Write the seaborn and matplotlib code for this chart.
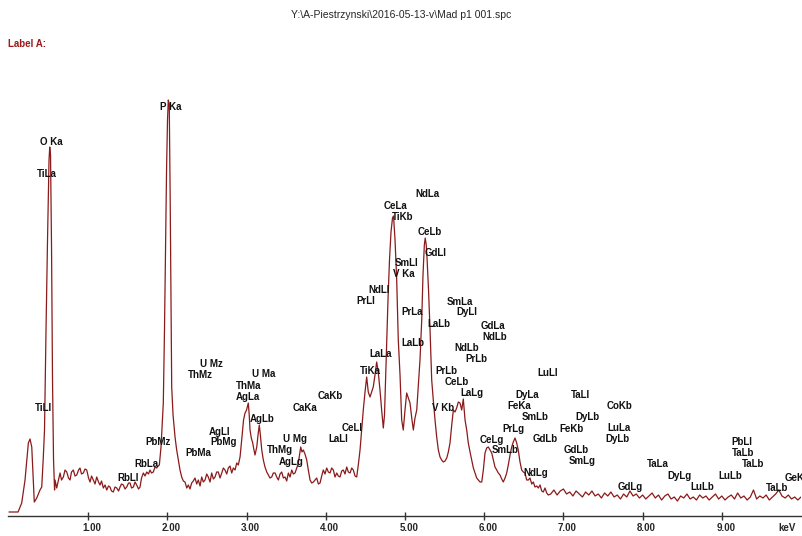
import numpy as np
import pandas as pd
import matplotlib
matplotlib.use("Agg")
import matplotlib.pyplot as plt
import matplotlib.transforms as mtransforms
import seaborn as sns

sns.set_style("white")
plt.rcParams['font.family'] = ['Liberation Sans', 'DejaVu Sans']

# spectrum: energy (keV) and intensity (arbitrary counts)
energy_kev = [
    0.000, 0.114, 0.160, 0.202, 0.244, 0.265, 0.287, 0.307, 0.319, 0.350, 0.391, 0.413, 0.433,
    0.448, 0.467, 0.486, 0.505, 0.514, 0.524, 0.537, 0.549, 0.562, 0.575, 0.581, 0.602,
    0.644, 0.663, 0.686, 0.707, 0.729, 0.751, 0.770, 0.789, 0.812, 0.833, 0.855, 0.878, 0.896,
    0.915, 0.938, 0.960, 0.981, 1.004, 1.023, 1.042, 1.064, 1.086, 1.107, 1.130, 1.149, 1.168,
    1.191, 1.212, 1.234, 1.256, 1.275, 1.294, 1.317, 1.338, 1.360, 1.383, 1.402, 1.420, 1.443,
    1.465, 1.486, 1.509, 1.528, 1.547, 1.570, 1.591, 1.612, 1.635, 1.654, 1.673, 1.696, 1.717,
    1.739, 1.761, 1.780, 1.799, 1.822, 1.843, 1.865, 1.881, 1.898, 1.919, 1.934, 1.948, 1.963,
    1.976, 1.989, 2.001, 2.011, 2.023, 2.035, 2.045, 2.054, 2.071, 2.096, 2.117, 2.138, 2.159,
    2.180, 2.201, 2.222, 2.244, 2.264, 2.285, 2.306, 2.327, 2.348, 2.370, 2.390, 2.412, 2.433,
    2.453, 2.475, 2.496, 2.516, 2.538, 2.559, 2.580, 2.601, 2.622, 2.643, 2.664, 2.686, 2.706,
    2.727, 2.749, 2.769, 2.790, 2.812, 2.832, 2.854, 2.875, 2.895, 2.917, 2.932, 2.946, 2.961,
    2.980, 2.999, 3.021, 3.033, 3.043, 3.059, 3.077, 3.093, 3.106, 3.128, 3.144, 3.160, 3.176,
    3.191, 3.211, 3.232, 3.254, 3.274, 3.295, 3.317, 3.337, 3.359, 3.380, 3.401, 3.422, 3.443,
    3.464, 3.485, 3.506, 3.527, 3.548, 3.570, 3.590, 3.611, 3.633, 3.653, 3.668, 3.683, 3.699,
    3.716, 3.737, 3.759, 3.779, 3.801, 3.822, 3.843, 3.864, 3.885, 3.906, 3.927, 3.948, 3.968,
    3.990, 4.011, 4.032, 4.053, 4.074, 4.095, 4.116, 4.138, 4.158, 4.179, 4.201, 4.221, 4.242,
    4.264, 4.284, 4.306, 4.327, 4.347, 4.369, 4.390, 4.410, 4.432, 4.453, 4.473, 4.495, 4.516,
    4.536, 4.558, 4.579, 4.599, 4.621, 4.642, 4.662, 4.684, 4.705, 4.726, 4.741, 4.754, 4.769,
    4.785, 4.804, 4.823, 4.842, 4.855, 4.874, 4.895, 4.915, 4.937, 4.958, 4.978, 5.000, 5.021,
    5.042, 5.063, 5.085, 5.105, 5.126, 5.148, 5.168, 5.189, 5.211, 5.227, 5.244, 5.255, 5.268,
    5.278, 5.297, 5.316, 5.337, 5.357, 5.379, 5.400, 5.421, 5.442, 5.463, 5.484, 5.505, 5.527,
    5.547, 5.568, 5.590, 5.610, 5.631, 5.652, 5.673, 5.694, 5.716, 5.736, 5.758, 5.779, 5.799,
    5.821, 5.842, 5.863, 5.884, 5.905, 5.926, 5.947, 5.969, 5.989, 6.010, 6.031, 6.052, 6.073,
    6.095, 6.115, 6.136, 6.158, 6.178, 6.199, 6.221, 6.241, 6.263, 6.284, 6.304, 6.326, 6.347,
    6.367, 6.389, 6.410, 6.430, 6.452, 6.473, 6.494, 6.515, 6.536, 6.557, 6.578, 6.600, 6.620,
    6.641, 6.663, 6.683, 6.705, 6.726, 6.746, 6.768, 6.789, 6.809,
    6.84, 6.88, 6.92, 6.96, 7.00, 7.04, 7.08, 7.12, 7.16, 7.20, 7.24, 7.28, 7.32, 7.36, 7.40,
    7.44, 7.48, 7.52, 7.56, 7.60, 7.64, 7.68, 7.72, 7.76, 7.80, 7.84, 7.88, 7.92, 7.96, 8.00,
    8.04, 8.08, 8.12, 8.16, 8.20, 8.24, 8.28, 8.32, 8.36, 8.40, 8.44, 8.48, 8.52, 8.56, 8.60,
    8.64, 8.68, 8.72, 8.76, 8.80, 8.84, 8.88, 8.92, 8.96, 9.00, 9.04, 9.08, 9.12, 9.16, 9.20,
    9.24, 9.28, 9.32, 9.36, 9.40, 9.44, 9.48, 9.52, 9.56, 9.60, 9.64, 9.68, 9.72, 9.76, 9.80,
    9.84, 9.88, 9.92, 9.96, 10.00,
]
counts = [
    4, 4, 13, 36, 73, 77, 69, 36, 14, 18, 26, 29, 59,
    86, 186, 276, 356, 369, 361, 266, 136, 56, 26, 36, 28,
    43, 36, 39, 46, 44, 38, 36, 44, 46, 40, 41, 46, 48,
    42, 43, 47, 46, 38, 34, 40, 36, 32, 39, 34, 31, 35,
    28, 31, 26, 30, 29, 25, 24, 29, 28, 25, 29, 32, 31,
    27, 29, 33, 33, 28, 29, 34, 31, 27, 29, 38, 43, 40,
    44, 42, 46, 43, 44, 49, 48, 50, 51, 69, 91, 113, 186,
    266, 346, 396, 416, 412, 316, 216, 129, 101, 79, 66, 56, 46,
    39, 35, 34, 28, 31, 27, 33, 35, 38, 32, 36, 30, 39,
    34, 36, 42, 39, 34, 43, 37, 39, 44, 44, 38, 43, 48,
    46, 42, 48, 50, 43, 48, 46, 53, 51, 59, 71, 83, 96,
    103, 106, 113, 101, 86, 78, 73, 66, 61, 69, 81, 91, 79,
    66, 56, 49, 44, 41, 38, 39, 43, 43, 39, 36, 42, 44,
    38, 39, 35, 43, 39, 46, 42, 43, 48, 53, 61, 69, 64,
    66, 62, 56, 46, 36, 33, 34, 36, 38, 32, 33, 40, 46,
    42, 48, 44, 43, 48, 46, 39, 43, 40, 39, 45, 46, 42,
    49, 44, 43, 48, 46, 40, 39, 51, 66, 86, 106, 124, 139,
    124, 119, 124, 129, 141, 154, 144, 126, 106, 88, 101, 136, 176,
    216, 256, 284, 298, 300, 276, 236, 176, 141, 96, 86, 106, 123,
    118, 113, 98, 86, 98, 106, 131, 156, 196, 241, 271, 278, 271,
    258, 226, 186, 136, 116, 96, 79, 66, 59, 56, 54, 55, 58,
    64, 73, 91, 106, 104, 108, 114, 113, 106, 117, 96, 86, 73,
    64, 56, 48, 43, 38, 36, 34, 34, 46, 63, 68, 69, 66,
    63, 56, 49, 46, 43, 41, 37, 34, 38, 43, 51, 61, 69,
    74, 78, 73, 66, 54, 46, 44, 43, 36, 36, 38, 32, 34,
    29, 30, 28, 31, 25, 24, 28, 23, 21,
    22, 26, 21, 25, 27, 22, 24, 20, 25, 22, 19, 24, 21, 25, 20,
    22, 18, 23, 20, 24, 19, 21, 17, 22, 19, 25, 20, 22, 18, 21,
    17, 20, 23, 18, 21, 16, 20, 22, 17, 19, 15, 20, 18, 22, 17,
    19, 16, 21, 18, 20, 16, 19, 22, 17, 20, 16, 19, 21, 17, 23,
    18, 20, 16, 19, 26, 17, 20, 18, 21, 16, 19, 22, 26, 20, 18,
    21, 17, 19, 16, 19,
]

# peak identification labels: name, energy (keV), height (counts)
peak_names = [
    "O Ka", "TiLa", "P Ka", "TiLl", "PbMz", "RbLa", "RbLl", "U Mz", "ThMz", "PbMa",
    "AgLl", "PbMg", "ThMa", "AgLa", "U Ma", "AgLb", "U Mg", "ThMg", "AgLg", "CaKa",
    "CaKb", "LaLl", "CeLl", "TiKa", "NdLa", "CeLa", "TiKb", "CeLb", "GdLl", "SmLl",
    "V Ka", "NdLl", "PrLl", "PrLa", "SmLa", "DyLl", "LaLb", "LaLb", "LaLa", "GdLa",
    "NdLb", "NdLb", "PrLb", "PrLb", "CeLb", "LaLg", "V Kb", "LuLl", "DyLa", "FeKa",
    "SmLb", "PrLg", "GdLb", "CeLg", "SmLb", "NdLg", "TaLl", "DyLb", "FeKb", "GdLb",
    "SmLg", "CoKb", "LuLa", "DyLb", "TaLa", "GdLg", "DyLg", "LuLb", "LuLb", "PbLl",
    "TaLb", "TaLb", "TaLb",
]
peak_kev = [
    0.539, 0.476, 2.045, 0.433, 1.885, 1.739, 1.506, 2.551, 2.412, 2.390,
    2.655, 2.715, 3.030, 3.021, 3.211, 3.191, 3.611, 3.422, 3.569, 3.737,
    4.053, 4.158, 4.335, 4.558, 5.278, 4.886, 4.971, 5.307, 5.391, 5.021,
    4.987, 4.676, 4.508, 5.085, 5.694, 5.787, 5.433, 5.097, 4.693, 6.115,
    6.136, 5.779, 5.896, 5.527, 5.653, 5.842, 5.484, 6.797, 6.540, 6.443,
    6.641, 6.367, 6.768, 6.095, 6.263, 6.654, 7.213, 7.302, 7.096, 7.159,
    7.235, 7.706, 7.702, 7.681, 8.191, 7.841, 8.472, 8.754, 9.112, 9.251,
    9.264, 9.398, 9.701,
]
peak_height = [
    374, 342, 409, 108, 74, 52, 38, 152, 141, 63,
    84, 74, 130, 119, 142, 97, 77, 66, 54, 108,
    120, 77, 88, 145, 322, 310, 299, 284, 263, 253,
    242, 226, 215, 204, 214, 204, 192, 173, 162, 190,
    179, 168, 157, 145, 134, 123, 108, 143, 121, 110,
    99, 87, 77, 76, 66, 43, 121, 99, 87, 66,
    55, 110, 88, 77, 52, 29, 40, 29, 40, 74,
    63, 52, 28,
]

tick_kev = [1, 2, 3, 4, 5, 6, 7, 8, 9]
tick_labels = ["1.00", "2.00", "3.00", "4.00", "5.00", "6.00", "7.00", "8.00", "9.00"]

spec_df = pd.DataFrame({"energy": energy_kev, "counts": counts})

fig = plt.figure(figsize=(8.02, 5.36), dpi=100)
ax = fig.add_axes([8 / 802, 20 / 536, 793 / 802, 456 / 536])

sns.lineplot(data=spec_df, x="energy", y="counts", sort=False, estimator=None,
             color="#8b1a1a", linewidth=0.9, ax=ax)

for name, e, h in zip(peak_names, peak_kev, peak_height):
    ax.text(e, h, name, ha="center", va="center", fontsize=7, fontweight="bold", color="#111111")
# cut off at the right edge
ax.text(9.798, 38, "GeKa", ha="left", va="center", fontsize=7, fontweight="bold",
        color="#111111", clip_on=False)

ax.set_xlim(-0.013, 10.0)
ax.set_ylim(0, 456)
ax.set_xlabel("")
ax.set_ylabel("")
ax.set_yticks([])
for side in ["left", "right", "top"]:
    ax.spines[side].set_visible(False)
ax.spines["bottom"].set_color("#333333")
ax.spines["bottom"].set_linewidth(1.0)

ax.set_xticks(tick_kev)
ax.set_xticklabels(tick_labels, fontsize=7, fontweight="bold")
ax.tick_params(axis="x", direction="inout", length=6, width=1, color="#333333", pad=2, bottom=True)
shift = mtransforms.ScaledTranslation(4 / 100, 0, fig.dpi_scale_trans)
for lbl in ax.get_xticklabels():
    lbl.set_transform(lbl.get_transform() + shift)

fig.text(787 / 802, 1 - 528 / 536, "keV", ha="center", va="center", fontsize=7, fontweight="bold")
fig.text(0.5, 1 - 15 / 536, r"Y:\A-Piestrzynski\2016-05-13-v\Mad p1 001.spc",
         ha="center", va="center", fontsize=7.5)
fig.text(8 / 802, 1 - 44 / 536, "Label A:", ha="left", va="center", fontsize=7,
         fontweight="bold", color="#9b1b1b")

fig.savefig("out.png", dpi=100)
